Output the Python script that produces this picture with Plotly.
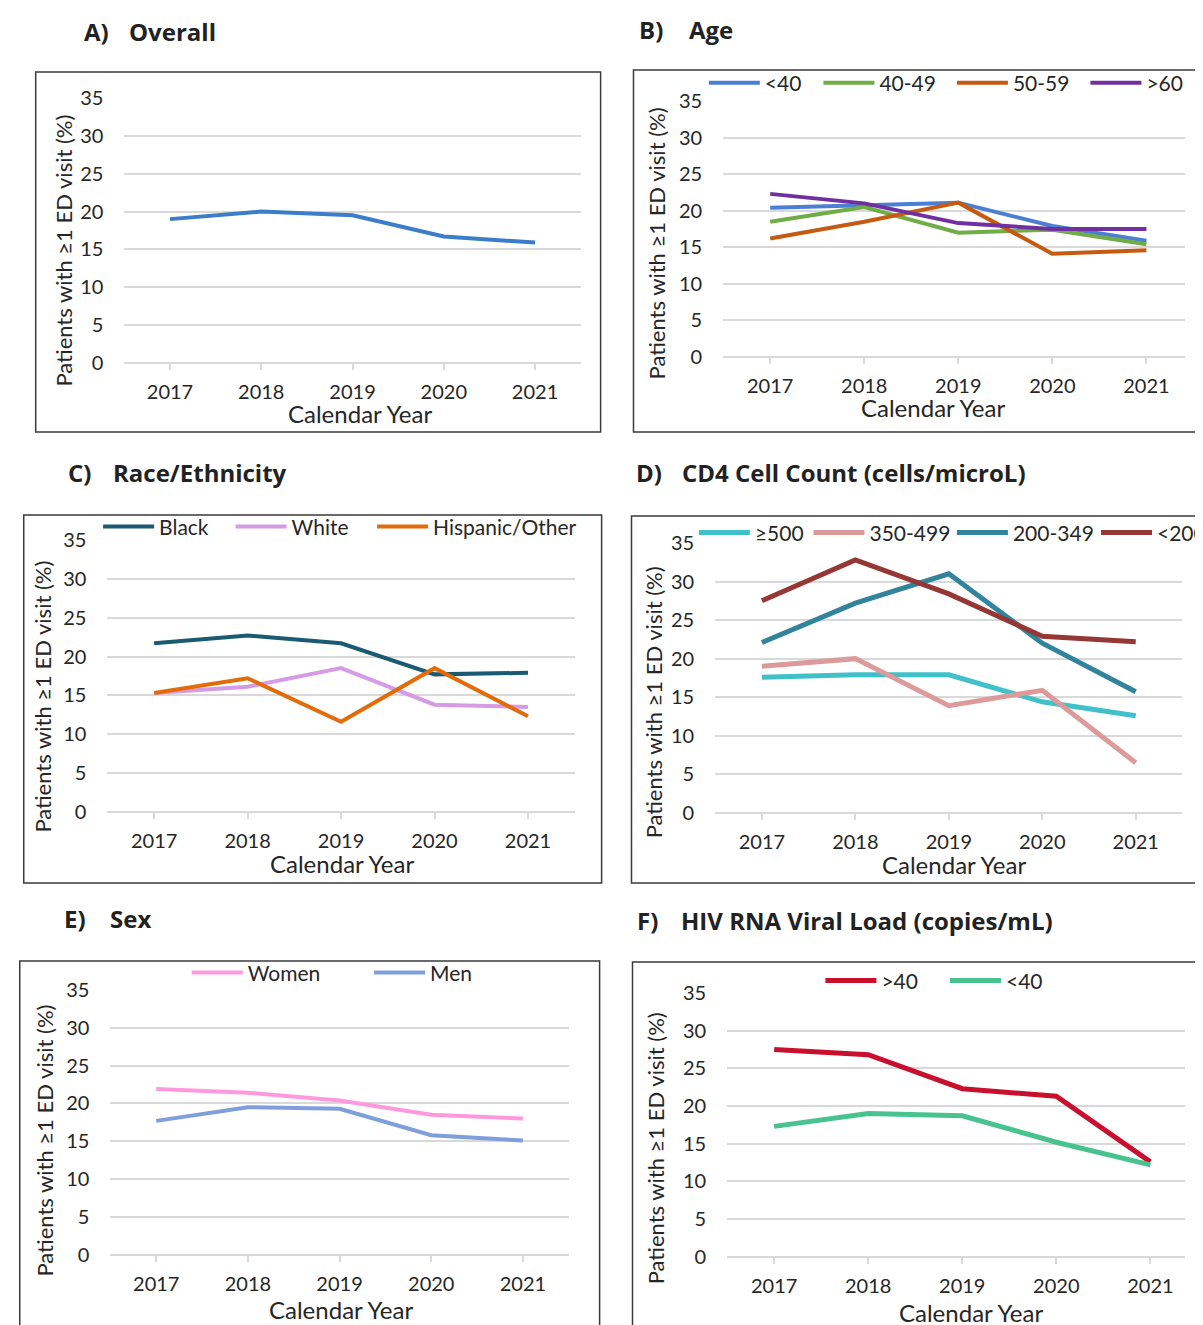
import plotly.graph_objects as go

# ---------------- data ----------------
years = ["2017", "2018", "2019", "2020", "2021"]
y_tick_vals = [0, 5, 10, 15, 20, 25, 30, 35]

overall = [19.0, 20.0, 19.5, 16.7, 15.9]

age_lt40 = [20.4, 20.8, 21.1, 17.9, 15.9]
age_40_49 = [18.5, 20.5, 17.0, 17.4, 15.4]
age_50_59 = [16.2, 18.5, 21.1, 14.1, 14.6]
age_gt60 = [22.3, 21.0, 18.3, 17.5, 17.5]

race_black = [21.7, 22.7, 21.7, 17.7, 17.9]
race_white = [15.3, 16.1, 18.5, 13.8, 13.5]
race_hisp = [15.3, 17.2, 11.6, 18.5, 12.3]

cd4_ge500 = [17.6, 17.9, 17.9, 14.4, 12.6]
cd4_350_499 = [19.0, 20.0, 13.9, 15.9, 6.5]
cd4_200_349 = [22.1, 27.2, 31.0, 22.0, 15.7]
cd4_lt200 = [27.5, 32.8, 28.4, 22.9, 22.2]

sex_women = [21.9, 21.4, 20.4, 18.5, 18.0]
sex_men = [17.7, 19.5, 19.3, 15.8, 15.1]

vl_gt40 = [27.5, 26.8, 22.3, 21.3, 12.6]
vl_lt40 = [17.3, 19.0, 18.7, 15.2, 12.2]

y_title = "Patients with ≥1 ED visit (%)"
x_title = "Calendar Year"

# ---------------- layout geometry ----------------
W, H = 1203, 1325
# mapping from target picture pixels to figure pixels (page offset / scale)
SX, TX = 0.982, 8.2
SY, TY = 0.982, 21.0
FONT = "Lato, 'Liberation Sans', sans-serif"
TFONT = "'Open Sans', Lato, sans-serif"


def px(x):
    return ((x - TX) / SX) / W


def py(y):
    return 1 - ((y - TY) / SY) / H


panels = [
    dict(letter="A)", title="Overall", lx=82, tx=128, ty=32,
         box=(36, 72, 603, 432), plot=(125, 98, 583, 363),
         xt=(362, 414), yt=(64, 251),
         series=[("Overall", overall, "#3b7dc8", 4, None)]),
    dict(letter="B)", title="Age", lx=640, tx=690, ty=30,
         box=(636, 70, 1240, 432), plot=(726, 101, 1198, 357),
         xt=(937, 408), yt=(660, 243),
         series=[("<40", age_lt40, "#4a7fd4", 4, (713, 83)),
                 ("40-49", age_40_49, "#70ad47", 4, (828, 83)),
                 ("50-59", age_50_59, "#c55a11", 4, (962, 83)),
                 (">60", age_gt60, "#7030a0", 4, (1096, 83))]),
    dict(letter="C)", title="Race/Ethnicity", lx=66, tx=112, ty=473,
         box=(24, 515, 604, 883), plot=(108, 540, 577, 812),
         xt=(343, 864), yt=(43, 697),
         series=[("Black", race_black, "#1b5a73", 4, (105, 527)),
                 ("White", race_white, "#d59be6", 4, (238, 527)),
                 ("Hispanic/Other", race_hisp, "#e36c0a", 4, (380, 527))]),
    dict(letter="D)", title="CD4 Cell Count (cells/microL)", lx=637, tx=683, ty=473,
         box=(634, 516, 1240, 883), plot=(718, 543, 1187, 813),
         xt=(958, 865), yt=(657, 702),
         series=[("≥500", cd4_ge500, "#40c1c9", 5, (703, 533)),
                 ("350-499", cd4_350_499, "#dc9a9a", 5, (818, 533)),
                 ("200-349", cd4_200_349, "#31849b", 5, (962, 533)),
                 ("<200", cd4_lt200, "#953735", 5, (1107, 533))]),
    dict(letter="E)", title="Sex", lx=62, tx=109, ty=919,
         box=(20, 961, 602, 1370), plot=(111, 990, 571, 1255),
         xt=(342, 1310), yt=(45, 1141),
         series=[("Women", sex_women, "#ff99dd", 4, (194, 973)),
                 ("Men", sex_men, "#7f9fdc", 4, (377, 973))]),
    dict(letter="F)", title="HIV RNA Viral Load (copies/mL)", lx=638, tx=682, ty=921,
         box=(635, 962, 1240, 1370), plot=(730, 993, 1202, 1257),
         xt=(975, 1313), yt=(658, 1148),
         series=[(">40", vl_gt40, "#c8102e", 5, (830, 981)),
                 ("<40", vl_lt40, "#48c38f", 5, (955, 981))]),
]

fig = go.Figure()
layout = dict(
    width=W, height=H, margin=dict(l=0, r=0, t=0, b=0),
    paper_bgcolor="white", plot_bgcolor="white",
    font=dict(family=FONT, size=20, color="#262626"),
    showlegend=True,
)
annotations = []
shapes = []
legend_count = 0
n_cat = len(years)

for i, p in enumerate(panels, start=1):
    xa = "x" if i == 1 else f"x{i}"
    ya = "y" if i == 1 else f"y{i}"
    x0, y0, x1, y1 = p["plot"]
    d0, d1 = px(x0), px(x1)
    rmax = n_cat - 0.5
    if d1 > 1.0:  # plot area runs past the picture edge: keep category spacing
        rmax = -0.5 + n_cat * (1.0 - d0) / (d1 - d0)
        d1 = 1.0
    layout["xaxis" if i == 1 else f"xaxis{i}"] = dict(
        domain=[d0, d1], anchor=ya, type="category",
        categoryorder="array", categoryarray=years,
        range=[-0.5, rmax],
        showgrid=False, zeroline=False, showline=False,
        ticks="outside", ticklen=6, tickwidth=1.5, tickcolor="#d9d9d9",
        ticklabelstandoff=5,
        tickfont=dict(family=FONT, size=20, color="#262626"),
        fixedrange=True,
    )
    layout["yaxis" if i == 1 else f"yaxis{i}"] = dict(
        domain=[max(0.0, py(y1)), py(y0)], anchor=xa, range=[0, 35],
        tickvals=y_tick_vals, showgrid=True, gridcolor="#d9d9d9", gridwidth=1.5,
        zeroline=True, zerolinecolor="#d9d9d9", zerolinewidth=1.5,
        showline=False, ticks="", ticklabelstandoff=20,
        tickfont=dict(family=FONT, size=20, color="#262626"),
        fixedrange=True,
    )
    for name, vals, color, lw, leg in p["series"]:
        tr = dict(x=years, y=vals, mode="lines", name=name,
                  line=dict(color=color, width=lw),
                  xaxis=xa, yaxis=ya, hoverinfo="x+y+name")
        if leg is None:
            tr["showlegend"] = False
        else:
            legend_count += 1
            lname = "legend" if legend_count == 1 else f"legend{legend_count}"
            tr["legend"] = lname
            layout[lname] = dict(
                x=px(leg[0]) - 6.5 / W, y=py(leg[1]), xanchor="left", yanchor="middle",
                orientation="h", bgcolor="rgba(0,0,0,0)", borderwidth=0,
                font=dict(family=FONT, size=21, color="#262626"),
                itemwidth=51, tracegroupgap=0,
            )
        fig.add_trace(go.Scatter(**tr))

    # panel box
    bx0, by0, bx1, by1 = p["box"]
    shapes.append(dict(type="rect", xref="paper", yref="paper",
                       x0=px(bx0), x1=px(bx1), y0=py(by1), y1=py(by0),
                       line=dict(color="#3a3a3a", width=1.5), fillcolor="rgba(0,0,0,0)",
                       layer="below"))
    # panel titles
    annotations.append(dict(text=f"<b>{p['letter']}</b>", x=px(p["lx"]), y=py(p["ty"]),
                            xref="paper", yref="paper", xanchor="left", yanchor="middle",
                            showarrow=False, font=dict(family=TFONT, size=24, color="#222")))
    annotations.append(dict(text=f"<b>{p['title']}</b>", x=px(p["tx"]), y=py(p["ty"]),
                            xref="paper", yref="paper", xanchor="left", yanchor="middle",
                            showarrow=False, font=dict(family=TFONT, size=24, color="#222")))
    # axis titles
    annotations.append(dict(text=x_title, x=px(p["xt"][0]), y=py(p["xt"][1]),
                            xref="paper", yref="paper", xanchor="center", yanchor="middle",
                            showarrow=False, font=dict(family=FONT, size=24, color="#262626")))
    annotations.append(dict(text=y_title, x=px(p["yt"][0]), y=py(p["yt"][1]),
                            xref="paper", yref="paper", xanchor="center", yanchor="middle",
                            textangle=-90, showarrow=False,
                            font=dict(family=FONT, size=22, color="#262626")))

layout["annotations"] = annotations
layout["shapes"] = shapes
fig.update_layout(**layout)
fig.write_html("out.html")
